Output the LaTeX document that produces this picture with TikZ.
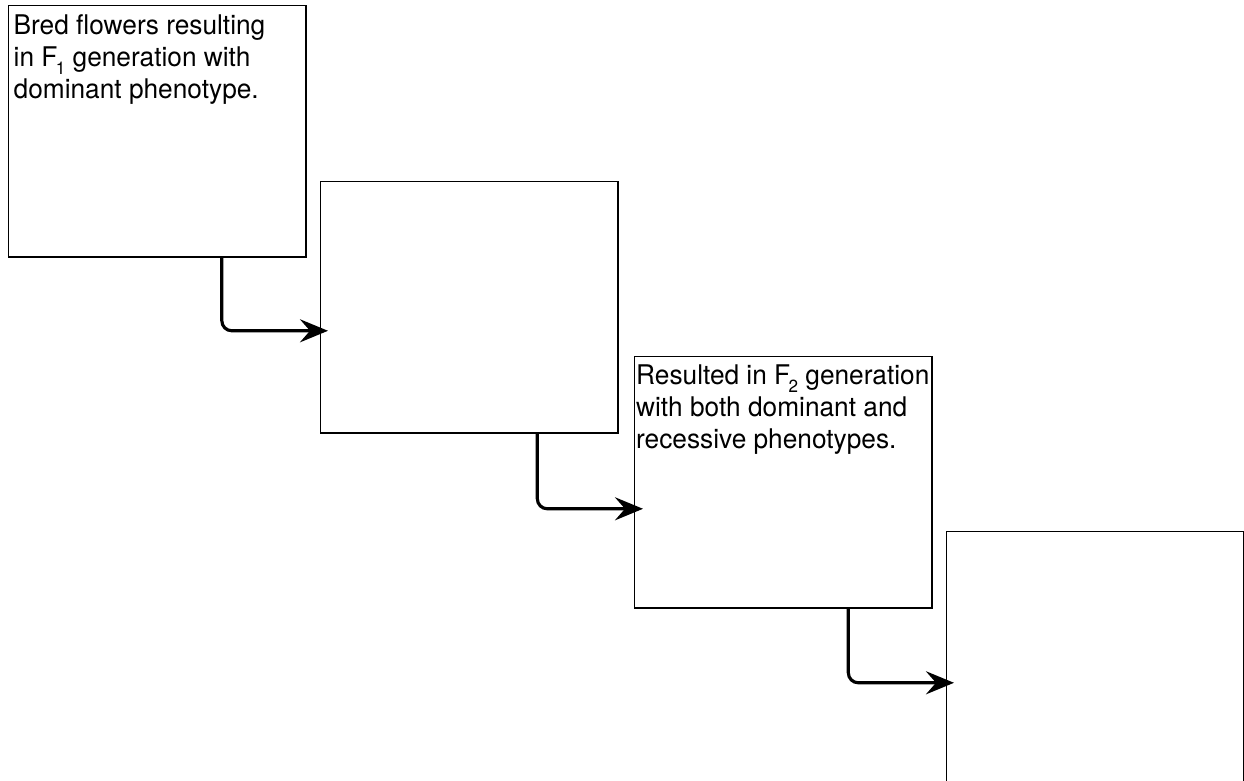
\documentclass[tikz,border=0pt]{standalone}
\usepackage{fontspec}
\setmainfont[FakeStretch = 0.97]{TeX Gyre Heros}
\usetikzlibrary{arrows.meta}
\newcommand{\gen}[1]{F\kern-0.06em\raisebox{-0.55ex}{\fontsize{5}{5}\selectfont #1}}
\tikzset{
	stage/.style = {draw, line width = 0.4pt, minimum width = 2.97cm, minimum height = 2.51cm, inner sep = 0pt, anchor = north west},
	note/.style = {anchor = north west, align = left, inner sep = 0pt, font = \fontsize{7.7}{9.1}\selectfont},
	flow/.style = {-{Stealth[length = 2.8mm, width = 2.3mm, inset = 1mm]}, line width = 0.9pt, rounded corners = 0.1cm},
}
\begin{document}
\begin{tikzpicture}[x = 0.01cm, y = -0.01cm]
	\useasboundingbox (0,0) rectangle (1244,781);
	
	\node[stage](box1) at (8,5) {};
	\node[stage](box2) at (320,181) {};
	\node[stage](box3) at (634,356) {};
	\node[stage](box4) at (946,531) {};
	
	\node[note](txt1) at ([xshift = 0.05cm, yshift = -0.09cm]box1.north west)
		{Bred flowers resulting\\in \gen{1} generation with\\dominant phenotype.};
	\node[note](txt3) at ([xshift = 0.015cm, yshift = -0.08cm]box3.north west)
		{Resulted in \gen{2} generation\\with both dominant and\\recessive phenotypes.};
	
	\draw[flow] ([xshift = 0.645cm]box1.south) |- ([xshift = 0.08cm, yshift = -0.235cm]box2.west);
	\draw[flow] ([xshift = 0.68cm]box2.south) |- ([xshift = 0.09cm, yshift = -0.265cm]box3.west);
	\draw[flow] ([xshift = 0.65cm]box3.south) |- ([xshift = 0.08cm, yshift = -0.255cm]box4.west);
	
\end{tikzpicture}
\end{document}
